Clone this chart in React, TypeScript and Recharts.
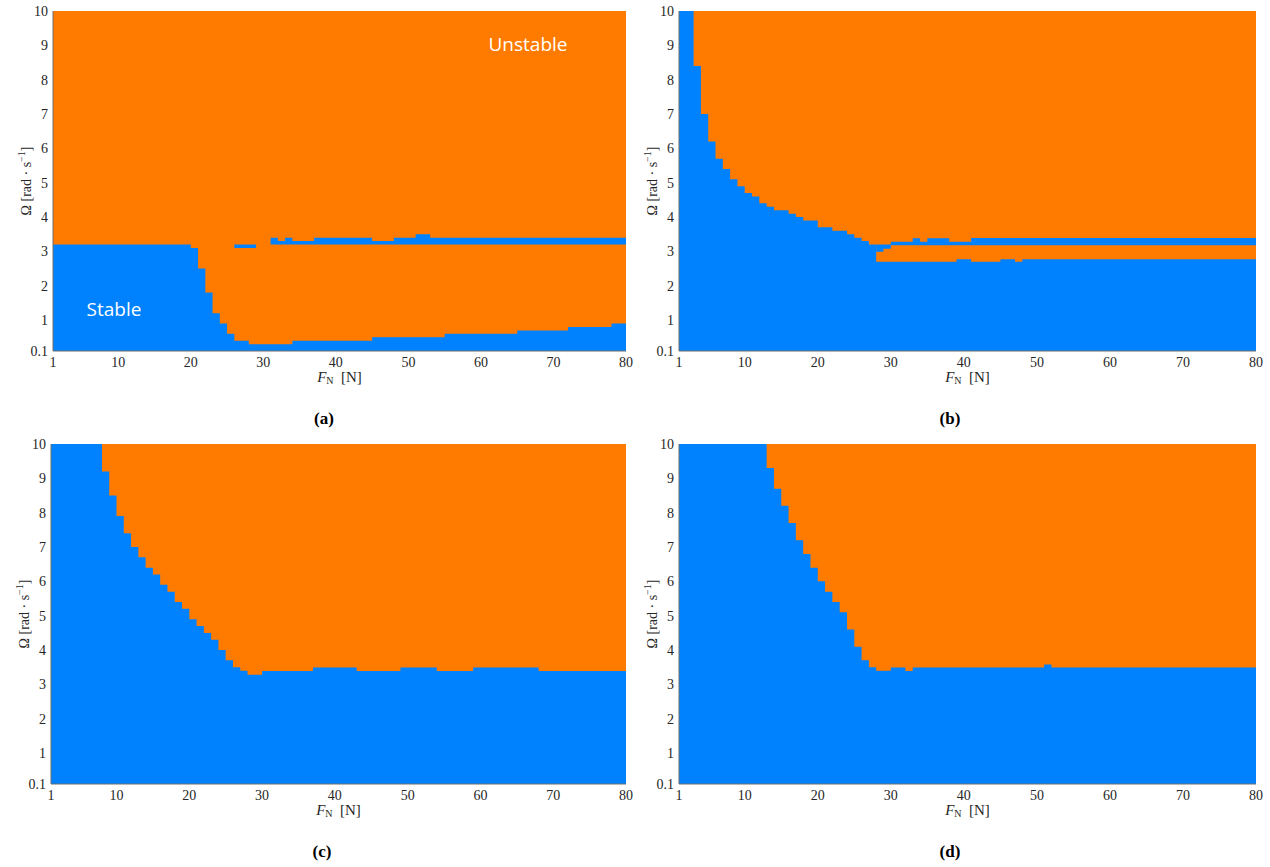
import React from "react";
import { Area, AreaChart, XAxis, YAxis } from "recharts";

const OMEGA_MIN = 0.1;
const OMEGA_MAX = 10;
const F_MIN = 1;
const F_MAX = 80;

const xTicks = [1, 10, 20, 30, 40, 50, 60, 70, 80];
const yTicks = [0.1, 1, 2, 3, 4, 5, 6, 7, 8, 9, 10];

const STABLE = "#0082ff";
const UNSTABLE = "#ff7b00";

// (a) breakpoints: stable region top, plus the thin stable band near 3.2
const aForce = [1, 20, 21, 22, 23, 24, 25, 26, 28, 29, 31, 32, 33, 34, 37, 45, 48, 51, 53, 55, 65, 72, 78, 80];
const aStable = [3.2, 3.1, 2.5, 1.8, 1.2, 0.9, 0.6, 0.4, 0.3, 0.3, 0.3, 0.3, 0.3, 0.4, 0.4, 0.5, 0.5, 0.5, 0.5, 0.6, 0.7, 0.8, 0.9, 0.9];
const aBandLo = [3.2, 3.2, 3.2, 3.2, 3.2, 3.2, 3.2, 3.1, 3.1, 3.2, 3.2, 3.2, 3.2, 3.2, 3.2, 3.2, 3.2, 3.2, 3.2, 3.2, 3.2, 3.2, 3.2, 3.2];
const aBandHi = [3.2, 3.2, 3.2, 3.2, 3.2, 3.2, 3.2, 3.2, 3.2, 3.2, 3.4, 3.3, 3.4, 3.3, 3.4, 3.3, 3.4, 3.5, 3.4, 3.4, 3.4, 3.4, 3.4, 3.4];

// (b)
const bForce = [1, 3, 4, 5, 6, 7, 8, 9, 10, 11, 12, 13, 14, 16, 17, 18, 20, 22, 24, 25, 26, 27, 28, 29, 30, 33, 34, 35, 38, 39, 41, 45, 47, 48, 80];
const bStable = [10, 8.4, 7.0, 6.2, 5.7, 5.4, 5.1, 4.9, 4.7, 4.6, 4.4, 4.3, 4.2, 4.1, 4.0, 3.9, 3.7, 3.6, 3.5, 3.4, 3.3, 3.2, 2.7, 2.7, 2.7, 2.7, 2.7, 2.7, 2.7, 2.77, 2.7, 2.77, 2.7, 2.77, 2.77];
const bBandLo = [10, 8.4, 7.0, 6.2, 5.7, 5.4, 5.1, 4.9, 4.7, 4.6, 4.4, 4.3, 4.2, 4.1, 4.0, 3.9, 3.7, 3.6, 3.5, 3.4, 3.3, 3.2, 2.99, 3.08, 3.18, 3.18, 3.18, 3.18, 3.18, 3.18, 3.18, 3.18, 3.18, 3.18, 3.18];
const bBandHi = [10, 8.4, 7.0, 6.2, 5.7, 5.4, 5.1, 4.9, 4.7, 4.6, 4.4, 4.3, 4.2, 4.1, 4.0, 3.9, 3.7, 3.6, 3.5, 3.4, 3.3, 3.2, 3.2, 3.2, 3.28, 3.38, 3.28, 3.38, 3.28, 3.28, 3.39, 3.39, 3.39, 3.39, 3.39];

// (c)
const cForce = [1, 8, 9, 10, 11, 12, 13, 14, 15, 16, 17, 18, 19, 20, 21, 22, 23, 24, 25, 26, 27, 28, 30, 37, 43, 49, 54, 59, 68, 80];
const cStable = [10, 9.2, 8.5, 7.9, 7.4, 7.0, 6.7, 6.4, 6.2, 5.9, 5.7, 5.4, 5.2, 4.9, 4.7, 4.5, 4.3, 4.0, 3.7, 3.5, 3.4, 3.28, 3.39, 3.49, 3.39, 3.49, 3.39, 3.49, 3.39, 3.39];

// (d)
const dForce = [1, 13, 14, 15, 16, 17, 18, 19, 20, 21, 22, 23, 24, 25, 26, 27, 28, 30, 32, 33, 51, 52, 80];
const dStable = [10, 9.3, 8.7, 8.2, 7.7, 7.2, 6.8, 6.4, 6.0, 5.7, 5.4, 5.1, 4.6, 4.1, 3.7, 3.5, 3.4, 3.49, 3.39, 3.49, 3.58, 3.49, 3.49];

type Row = { f: number; unstable: number[]; stable: number[]; band: number[] };

const buildRows = (force: number[], stable: number[], bandLo?: number[], bandHi?: number[]): Row[] =>
  force.map((f, i) => ({
    f,
    unstable: [OMEGA_MIN, OMEGA_MAX],
    stable: [OMEGA_MIN, stable[i]],
    band: bandLo && bandHi ? [bandLo[i], bandHi[i]] : [stable[i], stable[i]],
  }));

const aRows = buildRows(aForce, aStable, aBandLo, aBandHi);
const bRows = buildRows(bForce, bStable, bBandLo, bBandHi);
const cRows = buildRows(cForce, cStable);
const dRows = buildRows(dForce, dStable);

const Y_AXIS_W = 53;
const TOP = 11;
const RIGHT = 14;
const PLOT_H = 340;
const X_AXIS_H = 30;

const serif = "'Liberation Serif', 'DejaVu Serif', serif";
const tickStyle = { fill: "#262626", fontSize: 14, fontFamily: serif };
const frame = "#6e6e6e";

type PanelProps = {
  rows: Row[];
  hasBand: boolean;
  plotLeft: number;
  plotTop: number;
  plotWidth: number;
  caption: string;
};

const Panel: React.FC<PanelProps> = ({ rows, hasBand, plotLeft, plotTop, plotWidth, caption }) => {
  const width = Y_AXIS_W + plotWidth + RIGHT;
  const height = TOP + PLOT_H + X_AXIS_H;
  return (
    <>
      <div style={{ position: "absolute", left: plotLeft - Y_AXIS_W, top: plotTop - TOP, width, height }}>
        <AreaChart width={width} height={height} data={rows} margin={{ top: TOP, right: RIGHT, bottom: 0, left: 0 }}>
          <XAxis
            dataKey="f"
            type="number"
            domain={[F_MIN, F_MAX]}
            ticks={xTicks}
            height={X_AXIS_H}
            tick={tickStyle}
            tickLine={false}
            tickSize={0}
            tickMargin={6}
            axisLine={{ stroke: frame }}
          />
          <XAxis
            xAxisId="top"
            orientation="top"
            dataKey="f"
            type="number"
            domain={[F_MIN, F_MAX]}
            height={0}
            tick={false}
            tickLine={false}
            axisLine={{ stroke: frame }}
          />
          <YAxis
            type="number"
            domain={[OMEGA_MIN, OMEGA_MAX]}
            ticks={yTicks}
            width={Y_AXIS_W}
            tick={tickStyle}
            tickLine={false}
            tickSize={0}
            tickMargin={5}
            axisLine={{ stroke: frame }}
          />
          <YAxis
            yAxisId="right"
            orientation="right"
            type="number"
            domain={[OMEGA_MIN, OMEGA_MAX]}
            width={0}
            tick={false}
            tickLine={false}
            axisLine={{ stroke: frame }}
          />
          <Area dataKey="unstable" type="stepAfter" fill={UNSTABLE} fillOpacity={1} stroke="none" isAnimationActive={false} />
          <Area dataKey="stable" type="stepAfter" fill={STABLE} fillOpacity={1} stroke="none" isAnimationActive={false} />
          {hasBand && (
            <Area dataKey="band" type="stepAfter" fill={STABLE} fillOpacity={1} stroke="none" isAnimationActive={false} />
          )}
        </AreaChart>
      </div>
      <div
        style={{
          position: "absolute",
          left: plotLeft - 31 - 100,
          top: plotTop + 170 - 10,
          width: 200,
          height: 20,
          lineHeight: "20px",
          textAlign: "center",
          transform: "rotate(-90deg)",
          fontFamily: serif,
          fontSize: 14,
          color: "#262626",
          whiteSpace: "nowrap",
        }}
      >
        Ω [rad · s<sup style={{ fontSize: 10, verticalAlign: "6px" }}>−1</sup>]
      </div>
      <div
        style={{
          position: "absolute",
          left: plotLeft + plotWidth / 2 - 100,
          top: plotTop + PLOT_H + 18,
          width: 200,
          textAlign: "center",
          fontFamily: serif,
          fontSize: 15,
          color: "#262626",
          whiteSpace: "pre",
        }}
      >
        <i>F</i>
        <span style={{ fontSize: 10, verticalAlign: "-2px" }}>N</span>
        {"  [N]"}
      </div>
      <div
        style={{
          position: "absolute",
          left: plotLeft + 271 - 50,
          top: plotTop + 398,
          width: 100,
          textAlign: "center",
          fontFamily: serif,
          fontSize: 17,
          fontWeight: "bold",
          color: "#000",
        }}
      >
        {caption}
      </div>
    </>
  );
};

const regionLabel: React.CSSProperties = {
  position: "absolute",
  fontFamily: "'Open Sans', 'Noto Sans', sans-serif",
  fontSize: 19,
  color: "#ffffff",
  transform: "translate(-50%, -50%)",
  whiteSpace: "nowrap",
};

export default function App() {
  return (
    <div style={{ position: "absolute", left: 0, top: 0, width: 1270, height: 867, background: "#fff" }}>
      <Panel rows={aRows} hasBand plotLeft={53} plotTop={11} plotWidth={573} caption="(a)" />
      <Panel rows={bRows} hasBand plotLeft={679} plotTop={11} plotWidth={577} caption="(b)" />
      <Panel rows={cRows} hasBand={false} plotLeft={51} plotTop={444} plotWidth={575} caption="(c)" />
      <Panel rows={dRows} hasBand={false} plotLeft={679} plotTop={444} plotWidth={577} caption="(d)" />
      <div style={{ ...regionLabel, left: 528, top: 44 }}>Unstable</div>
      <div style={{ ...regionLabel, left: 114, top: 309 }}>Stable</div>
    </div>
  );
}
